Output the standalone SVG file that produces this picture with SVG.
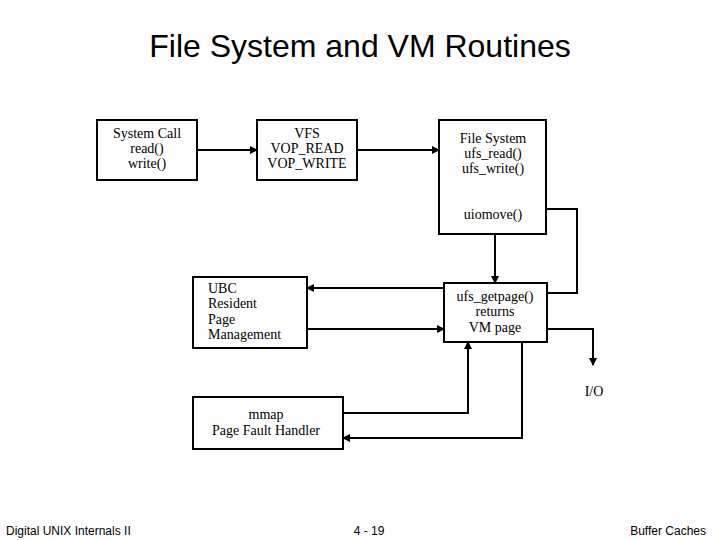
<svg xmlns="http://www.w3.org/2000/svg" width="720" height="540" viewBox="0 0 720 540">
<style>
.b{fill:#fff;stroke:#000;stroke-width:2}
.t{font-family:"Liberation Serif",serif;font-size:14px;fill:#000}
.c{fill:none;stroke:#000;stroke-width:2;marker-end:url(#a)}
.f{font-family:"Liberation Sans",sans-serif;font-size:12px}
</style>
<defs><marker id="a" markerWidth="8" markerHeight="8" refX="7" refY="4" orient="auto" markerUnits="userSpaceOnUse"><path d="M0,0L8,4L0,8z"/></marker></defs>
<rect width="720" height="540" fill="#fff"/>
<text x="360" y="57" text-anchor="middle" font-family="Liberation Sans,sans-serif" font-size="32">File System and VM Routines</text>
<g id="connectors">
<path class="c" d="M197,150H257"/>
<path class="c" d="M357,150H439"/>
<path class="c" d="M495,234V283"/>
<path class="c" d="M547,293H577V209H540"/>
<path class="c" d="M444,288H307"/>
<path class="c" d="M307,329H444"/>
<path class="c" d="M547,329H593V365"/>
<path class="c" d="M343,413H468V342"/>
<path class="c" d="M522,342V438H343"/>
</g>
<g id="syscall"><rect class="b" x="97" y="120" width="100" height="60"/>
<text class="t" text-anchor="middle" x="147" y="138">System Call</text><text class="t" text-anchor="middle" x="147" y="153">read()</text><text class="t" text-anchor="middle" x="147" y="168">write()</text></g>
<g id="vfs"><rect class="b" x="257" y="120" width="100" height="60"/>
<text class="t" text-anchor="middle" x="307" y="138">VFS</text><text class="t" text-anchor="middle" x="307" y="153">VOP_READ</text><text class="t" text-anchor="middle" x="307" y="168">VOP_WRITE</text></g>
<g id="fs"><rect class="b" x="439" y="120" width="107" height="114"/>
<text class="t" text-anchor="middle" x="493" y="143">File System</text><text class="t" text-anchor="middle" x="493" y="158">ufs_read()</text><text class="t" text-anchor="middle" x="493" y="173">ufs_write()</text><text class="t" text-anchor="middle" x="493" y="219">uiomove()</text></g>
<g id="ubc"><rect class="b" x="193" y="277" width="114" height="71"/>
<text class="t" x="208" y="293">UBC</text><text class="t" x="208" y="308">Resident</text><text class="t" x="208" y="324">Page</text><text class="t" x="208" y="339">Management</text></g>
<g id="getpage"><rect class="b" x="444" y="283" width="103" height="59"/>
<text class="t" text-anchor="middle" x="495" y="301">ufs_getpage()</text><text class="t" text-anchor="middle" x="495" y="316">returns</text><text class="t" text-anchor="middle" x="495" y="332">VM page</text></g>
<g id="io"><text class="t" text-anchor="middle" x="594" y="396">I/O</text></g>
<g id="mmap"><rect class="b" x="193" y="397" width="150" height="52"/>
<text class="t" text-anchor="middle" x="266" y="419">mmap</text><text class="t" text-anchor="middle" x="266" y="435">Page Fault Handler</text></g>
<text class="f" x="6" y="535">Digital UNIX Internals II</text>
<text class="f" x="369" y="535" text-anchor="middle">4 - 19</text>
<text class="f" x="706" y="535" text-anchor="end">Buffer Caches</text>
</svg>
